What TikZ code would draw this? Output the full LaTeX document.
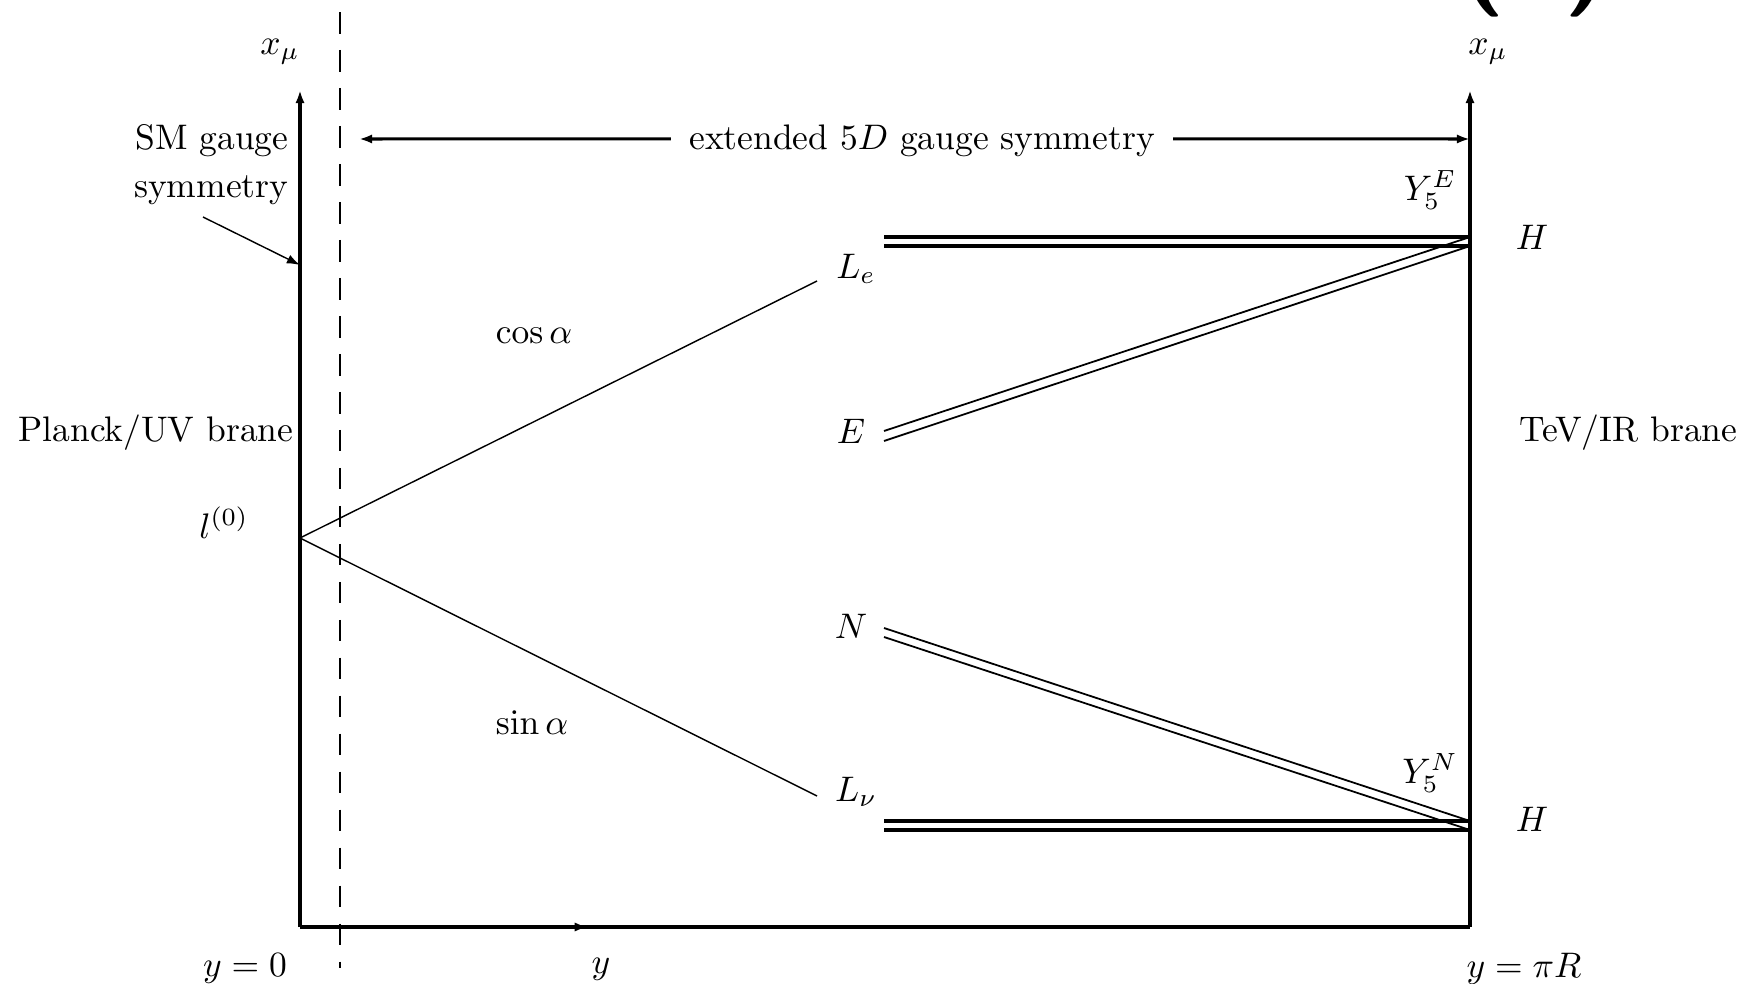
\documentclass[tikz,border=0pt]{standalone}
\usetikzlibrary{arrows.meta,decorations.markings}
\begin{document}
\begin{tikzpicture}[x=0.2817pt,y=-0.2817pt,
  axis/.style={line width=0.85pt},
  tipped/.style={-{Latex[length=3.7pt,width=2.6pt]}},
  thinline/.style={line width=0.4pt},
  thickpair/.style={line width=1pt},
  slantpair/.style={line width=0.5pt},
  lbl/.style={inner sep=0pt},
  midarrow/.style={decoration={markings,mark=at position 0.246 with {\arrow{Latex[length=3.7pt,width=2.6pt]}}},postaction={decorate}}]
\useasboundingbox (0,0) rectangle (1744,984);
\begin{scope}
\clip (0,0) rectangle (1744,984);
\node[lbl,anchor=base,font=\fontsize{30}{36}\bfseries\sffamily] (tag) at (1535,-10) {(b)};
\end{scope}
% coordinates
\coordinate (O) at (300,927);
\coordinate (Ltop) at (300,90);
\coordinate (R) at (1470,927);
\coordinate (Rtop) at (1470,90);
\coordinate (V) at (300,538);
\coordinate (Le1) at (817,281);
\coordinate (Lnu1) at (817,796);
\coordinate (Ha) at (1470,237);
\coordinate (Hb) at (1470,246);
\coordinate (Hc) at (1470,821);
\coordinate (Hd) at (1470,830);
\coordinate (Ea) at (884,431);
\coordinate (Eb) at (884,441);
\coordinate (Na) at (884,628);
\coordinate (Nb) at (884,637);
\coordinate (LeA) at (884,237);
\coordinate (LeB) at (884,246);
\coordinate (LnA) at (884,821);
\coordinate (LnB) at (884,830);
\coordinate (D1) at (340,12);
\coordinate (D2) at (340,968);
\coordinate (SMa) at (203,217);
\coordinate (SMb) at (300,265);
\coordinate (Xl) at (359,139);
\coordinate (Xr) at (1470,139);
% axes
\draw[axis,tipped] (O) -- (Ltop);
\draw[axis,tipped] (R) -- (Rtop);
\draw[axis,midarrow] (O) -- (R);
\draw[line width=0.75pt,dash pattern=on 6.1pt off 4.6pt] (D1) -- (D2);
% labels
\node[lbl] (xl) at (280,52) {$x_\mu$};
\node[lbl] (xr) at (1488,52) {$x_\mu$};
\node[lbl,align=right,anchor=east,font={\fontsize{10}{13.5}\selectfont}] (sm) at (289,165) {SM gauge\\symmetry};
\draw[thinline,tipped] (SMa) -- (SMb);
\node[lbl] (ext) at (922,141) {extended $5D$ gauge symmetry};
\draw[axis,tipped] ([xshift=-5pt,yshift=0.6pt]ext.west) -- (Xl);
\draw[axis,tipped] ([xshift=5pt,yshift=0.6pt]ext.east) -- (Xr);
\node[lbl,anchor=east] (pl) at (294,433) {Planck/UV brane};
\node[lbl,anchor=west] (tv) at (1519,433) {TeV/IR brane};
\node[lbl] (l0) at (224,523) {$l^{(0)}$};
\node[lbl] (cos) at (534,336) {$\cos\alpha$};
\node[lbl] (sin) at (532,723) {$\sin\alpha$};
\node[lbl] (Le) at (856,269) {$L_e$};
\node[lbl] (E) at (851,431) {$E$};
\node[lbl] (N) at (851,626) {$N$};
\node[lbl] (Ln) at (856,792) {$L_\nu$};
\node[lbl] (YE) at (1430,190) {$Y_5^E$};
\node[lbl] (YN) at (1430,773) {$Y_5^N$};
\node[lbl] (H1) at (1532,237) {$H$};
\node[lbl] (H2) at (1532,819) {$H$};
\node[lbl] (y0) at (245,969) {$y=0$};
\node[lbl] (y) at (601,969) {$y$};
\node[lbl] (ypi) at (1524,969) {$y=\pi R$};
% single lines
\draw[thinline] (V) -- (Le1);
\draw[thinline] (V) -- (Lnu1);
% double lines
\draw[thickpair] (LeA) -- (Ha) (LeB) -- (Hb);
\draw[thickpair] (LnA) -- (Hc) (LnB) -- (Hd);
\draw[slantpair] (Ea) -- (Ha) (Eb) -- (Hb);
\draw[slantpair] (Na) -- (Hc) (Nb) -- (Hd);
\end{tikzpicture}
\end{document}
